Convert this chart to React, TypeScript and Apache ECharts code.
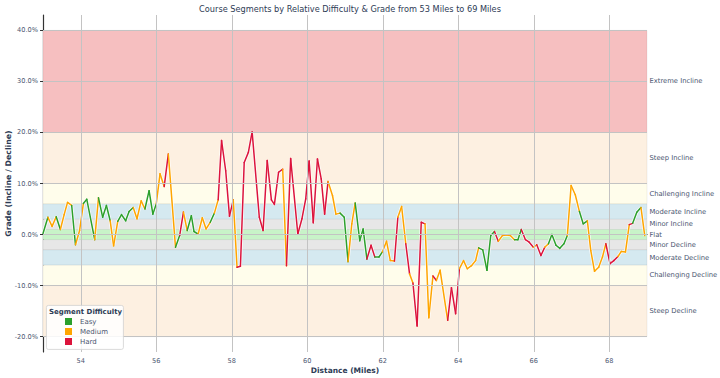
import React, { useEffect, useRef } from "react";
import * as echarts from "echarts";

const TITLE = "Course Segments by Relative Difficulty & Grade from 53 Miles to 69 Miles";

const miles = [
  53.0, 53.13, 53.24, 53.35, 53.46, 53.56, 53.65, 53.76, 53.86, 53.97,
  54.07, 54.16, 54.37, 54.47, 54.58, 54.68, 54.78, 54.87, 54.98, 55.08,
  55.19, 55.28, 55.39, 55.49, 55.6, 55.7, 55.81, 55.91, 56.0, 56.1,
  56.21, 56.32, 56.51, 56.62, 56.72, 56.82, 56.93, 57.0, 57.11, 57.22,
  57.32, 57.43, 57.54, 57.64, 57.73, 57.84, 57.94, 58.04, 58.14, 58.23,
  58.33, 58.44, 58.54, 58.73, 58.83, 58.94, 59.05, 59.13, 59.24, 59.35,
  59.45, 59.56, 59.75, 59.86, 59.96, 60.05, 60.16, 60.27, 60.37, 60.46,
  60.55, 60.67, 60.76, 60.87, 60.98, 61.08, 61.18, 61.27, 61.39, 61.48,
  61.58, 61.69, 61.79, 61.9, 61.99, 62.1, 62.2, 62.31, 62.4, 62.5,
  62.61, 62.71, 62.8, 62.91, 63.02, 63.12, 63.22, 63.33, 63.42, 63.52,
  63.72, 63.82, 63.93, 64.03, 64.14, 64.24, 64.35, 64.46, 64.54, 64.65,
  64.76, 64.86, 64.96, 65.06, 65.17, 65.27, 65.38, 65.49, 65.58, 65.67,
  65.78, 65.88, 65.99, 66.08, 66.19, 66.29, 66.39, 66.48, 66.59, 66.69,
  66.8, 66.89, 66.99, 67.1, 67.21, 67.31, 67.42, 67.51, 67.61, 67.72,
  67.82, 67.91, 68.02, 68.12, 68.23, 68.32, 68.43, 68.53, 68.62, 68.73,
  68.84, 68.94,
];

const grades = [
  0.2, 3.4, 1.6, 3.5, 1.0, 3.9, 6.3, 5.7, -2.0, 0.8,
  6.1, 6.9, -1.0, 7.2, 3.4, 5.7, 2.7, -2.2, 2.6, 3.9,
  2.7, 4.5, 5.3, 3.1, 6.6, 5.0, 8.6, 4.0, 6.0, 11.9,
  9.4, 15.8, -2.5, -0.2, 4.4, 0.8, 3.7, 0.6, 0.1, 3.3,
  1.1, 2.4, 4.2, 6.8, 18.4, 12.5, 3.6, 6.8, -6.4, -6.2,
  14.1, 16.1, 20.1, 3.4, 0.8, 14.5, 6.8, 5.9, 12.2, 12.8,
  -6.1, 14.9, 0.1, 3.1, 7.0, 14.4, 2.3, 14.8, 10.9, 4.0,
  10.4, 7.6, 4.0, 4.2, 3.4, -5.3, 2.1, 6.2, -1.2, 1.1,
  -4.8, -2.1, -4.4, -4.4, -3.4, -1.3, -5.1, -5.2, 3.4, 5.5,
  -1.8, -7.7, -9.5, -17.9, 2.4, 2.1, -16.3, -8.1, -9.0, -7.0,
  -16.8, -10.4, -15.5, -6.7, -5.1, -6.7, -6.1, -5.1, -2.6, -3.0,
  -7.0, -0.2, 0.6, -1.3, -0.2, -0.1, -0.2, -1.0, -1.0, 1.0,
  -1.0, -1.5, -2.5, -2.0, -4.1, -2.5, -1.8, 0.0, -2.1, -2.7,
  -1.8, -0.2, 9.6, 7.8, 4.5, 2.1, 2.7, -3.1, -7.2, -6.4,
  -4.4, -1.8, -5.7, -5.1, -4.3, -3.3, -3.4, 1.95, 2.2, 4.35,
  5.3, -0.2,
];

// Difficulty of the segment that starts at each point (E = Easy, M = Medium, H = Hard)
const segmentDifficulty = (
  "EMMEMMMEMM" + "EEMEEEMMEE" + "EEMMMEEEMM" + "HMEHMEEEMM" + "MEMHHHHMHH" +
  "HHHHHHHHHM" + "HHHHHHHHHH" + "MMMEEMMEEE" + "HHEEMMMHMM" + "HMHHHMMHMM" +
  "HHHMMMMMEE" + "EEHMMMMEEH" + "HHMHHMEEEE" + "EMMMEEMMMM" + "MHHHMMMHEE" + "M"
).split("");

const difficultyNames = ["Easy", "Medium", "Hard"];
const difficultyCodes = ["E", "M", "H"];
const difficultyColors = ["#2ca02c", "#ffa500", "#dc143c"];

const bandNames = [
  "Extreme Incline", "Steep Incline", "Challenging Incline", "Moderate Incline", "Minor Incline",
  "Flat", "Minor Decline", "Moderate Decline", "Challenging Decline", "Steep Decline",
];
const bandLow = [20, 10, 6, 3, 1, -1, -3, -6, -10, -20];
const bandHigh = [40, 20, 10, 6, 3, 1, -1, -3, -6, -10];
const bandColors = [
  "#f6bfc0", "#fdf0e1", "#fffdeb", "#d5e9f0", "#e7e7e7",
  "#c8f3c8", "#e7e7e7", "#d5e9f0", "#fffdeb", "#fdf0e1",
];

const xTicks = [54, 56, 58, 60, 62, 64, 66, 68];
const yTicks = [-20, -10, 0, 10, 20, 30, 40];

const FONT = "DejaVu Sans";
const TEXT = "#2d3b55";
const TICK = "#4b5670";

export default function App() {
  const ref = useRef<HTMLDivElement>(null);

  useEffect(() => {
    if (!ref.current) return;
    document.body.style.margin = "0";
    const chart = echarts.init(ref.current, undefined, { renderer: "svg" });

    const segments = [];
    for (let i = 0; i < miles.length - 1; i++) {
      const d = difficultyCodes.indexOf(segmentDifficulty[i]);
      segments.push([miles[i], grades[i], miles[i + 1], grades[i + 1], d < 0 ? 0 : d]);
    }

    const option: any = {
      animation: false,
      textStyle: { fontFamily: FONT },
      title: {
        text: TITLE,
        left: 345,
        textAlign: "center",
        top: 0,
        textStyle: { fontSize: 8.2, fontWeight: "normal", color: TEXT, fontFamily: FONT },
      },
      grid: { left: 43, right: 73, top: 15, bottom: 26, containLabel: false, outerBoundsMode: "none" },
      xAxis: {
        type: "value",
        min: 53,
        max: 69,
        name: "Distance (Miles)",
        nameLocation: "middle",
        nameGap: 14,
        nameMoveOverlap: false,
        nameTextStyle: { fontSize: 7.5, fontWeight: "bold", color: TEXT, fontFamily: FONT },
        axisLine: { show: true, lineStyle: { color: "#333", width: 1.2 } },
        axisTick: { show: true, customValues: xTicks, length: 3, lineStyle: { color: "#333" } },
        axisLabel: {
          customValues: xTicks,
          fontSize: 6.6,
          color: TICK,
          margin: 5,
          fontFamily: FONT,
          formatter: (v: number) => String(v),
        },
        splitLine: { show: false },
      },
      yAxis: {
        type: "value",
        min: -23,
        max: 43,
        name: "Grade (Incline / Decline)",
        nameLocation: "middle",
        nameGap: 31,
        nameMoveOverlap: false,
        nameTextStyle: { fontSize: 7.8, fontWeight: "bold", color: TEXT, fontFamily: FONT },
        axisLine: { show: true, lineStyle: { color: "#333", width: 1.2 } },
        axisTick: { show: true, customValues: yTicks, length: 3, lineStyle: { color: "#333" } },
        axisLabel: {
          customValues: yTicks,
          fontSize: 6.6,
          color: TICK,
          margin: 5,
          fontFamily: FONT,
          formatter: (v: number) => v.toFixed(1) + "%",
        },
        splitLine: { show: false },
      },
      legend: {
        data: difficultyNames.map((n) => ({ name: n, icon: "rect" })),
        orient: "vertical",
        left: 60,
        top: 313,
        z: 20,
        itemWidth: 7,
        itemHeight: 7,
        itemGap: 3,
        textStyle: { fontSize: 7, color: TICK, fontFamily: FONT, padding: [0, 0, 0, 3] },
        selectedMode: false,
      },
      graphic: [
        {
          type: "rect",
          left: 46,
          top: 305,
          z: 10,
          shape: { width: 77, height: 44, r: 2 },
          style: { fill: "rgba(255,255,255,0.85)", stroke: "#d0d0d0", lineWidth: 0.8 },
          silent: true,
        },
        {
          type: "text",
          left: 49,
          top: 308,
          z: 11,
          style: { text: "Segment Difficulty", fontSize: 7, fontWeight: "bold", fill: TEXT, fontFamily: FONT },
          silent: true,
        },
      ],
      series: [
        {
          type: "line",
          name: "bands",
          data: [],
          z: 1,
          silent: true,
          markArea: {
            silent: true,
            data: bandNames.map((name, i) => [
              {
                name,
                yAxis: bandLow[i],
                itemStyle: { color: bandColors[i], borderColor: "rgba(0,0,0,0.07)", borderWidth: 0.8 },
              },
              { yAxis: bandHigh[i] },
            ]),
            label: {
              show: true,
              position: "right",
              distance: 2,
              fontSize: 6.8,
              color: TICK,
              fontFamily: FONT,
            },
          },
        },
        {
          type: "line",
          name: "grid",
          data: [],
          z: 2,
          silent: true,
          markLine: {
            silent: true,
            symbol: "none",
            label: { show: false },
            lineStyle: { color: "#c3c3c3", width: 1, type: "solid" },
            data: [
              ...yTicks.map((v) => ({ yAxis: v })),
              ...xTicks.map((v) => ({ xAxis: v })),
            ],
          },
        },
        {
          type: "line",
          name: "halo",
          data: miles.map((m, i) => [m, grades[i]]),
          showSymbol: false,
          symbol: "none",
          z: 3,
          silent: true,
          lineStyle: { color: "rgba(255,255,255,0.85)", width: 3 },
        },
        {
          type: "custom",
          name: "segments",
          z: 4,
          silent: true,
          data: segments,
          encode: { x: [0, 2], y: [1, 3] },
          renderItem: (params: any, api: any) => {
            const p0 = api.coord([api.value(0), api.value(1)]);
            const p1 = api.coord([api.value(2), api.value(3)]);
            const c = difficultyColors[api.value(4)];
            return {
              type: "line",
              shape: { x1: p0[0], y1: p0[1], x2: p1[0], y2: p1[1] },
              style: { stroke: c, lineWidth: 1.5, lineCap: "round" },
            };
          },
        },
        ...difficultyNames.map((n, i) => ({
          type: "line",
          name: n,
          data: [],
          color: difficultyColors[i],
          itemStyle: { color: difficultyColors[i] },
        })),
      ],
    };

    chart.setOption(option);
    return () => chart.dispose();
  }, []);

  return <div ref={ref} style={{ width: 720, height: 378 }} />;
}
